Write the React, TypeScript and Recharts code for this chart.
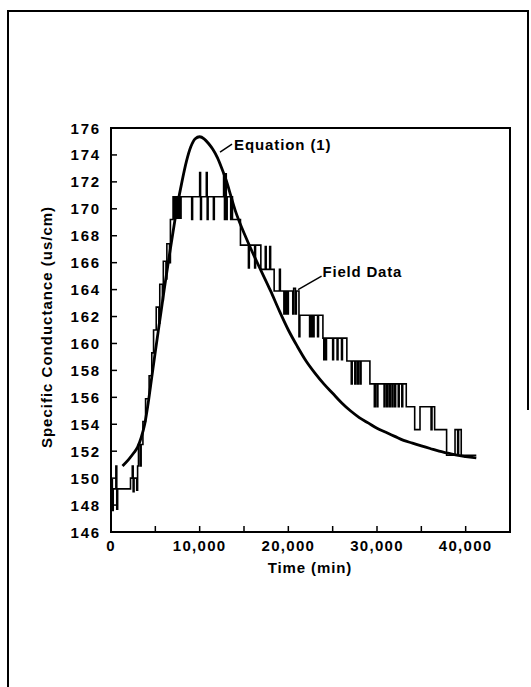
import { LineChart, Line, XAxis, YAxis, ReferenceArea, ReferenceLine } from 'recharts'

const FONT = "'Liberation Sans', Arial, Helvetica, sans-serif"

const xTicks = [0, 5000, 10000, 15000, 20000, 25000, 30000, 35000, 40000]
const yTicks = [146, 148, 150, 152, 154, 156, 158, 160, 162, 164, 166, 168, 170, 172, 174, 176]

// Equation (1): [time (min), specific conductance]
const equationCurve: [number, number][] = [
  [1300, 150.9], [2000, 151.4], [2600, 151.9], [3000, 152.3], [3400, 153.0], [3800, 154.0],
  [4200, 155.6], [4600, 157.5], [5000, 159.4], [5500, 161.7], [6000, 164.0], [6500, 166.2],
  [7000, 168.3], [7500, 170.3], [8000, 172.0], [8500, 173.5], [9000, 174.6], [9500, 175.2],
  [10000, 175.35], [10500, 175.2], [11000, 174.85], [11500, 174.4], [12000, 173.8], [12500, 173.0],
  [13000, 172.1], [13500, 171.0], [14000, 169.9], [14500, 169.0], [15000, 168.2], [16000, 166.7],
  [17000, 165.3], [18000, 163.9], [19000, 162.4], [20000, 161.0], [21000, 159.8], [22000, 158.7],
  [23000, 157.8], [24000, 157.0], [25000, 156.3], [26000, 155.6], [27000, 155.0], [28000, 154.5],
  [29000, 154.1], [30000, 153.7], [31000, 153.4], [32000, 153.1], [33000, 152.8], [34000, 152.6],
  [35000, 152.4], [36000, 152.2], [37000, 152.0], [38000, 151.85], [39000, 151.7], [40000, 151.6],
  [41200, 151.5],
]

// Field data, recorder trace (steps and spikes)
const fieldRise: [number, number][] = [
  [0, 149.9], [150, 149.9], [150, 147.6], [250, 147.6], [250, 149.2], [550, 149.2], [550, 150.9],
  [650, 150.9], [650, 147.7], [750, 147.7], [750, 149.2], [2200, 149.2], [2200, 150.0], [2400, 150.0],
  [2400, 150.9], [2500, 150.9], [2500, 149.0], [2600, 149.0], [2600, 150.0], [2900, 150.0],
  [2900, 149.1], [3000, 149.1], [3000, 150.9], [3100, 150.9], [3100, 152.5], [3300, 152.5],
  [3300, 150.9], [3400, 150.9], [3400, 152.5], [3600, 152.5], [3600, 154.2], [3900, 154.2],
  [3900, 155.9], [4300, 155.9], [4300, 157.6], [4600, 157.6], [4600, 159.3], [4800, 159.3],
  [4800, 161.0], [5100, 161.0], [5100, 162.7], [5400, 162.7], [5400, 161.5], [5500, 161.5],
  [5500, 164.4], [5800, 164.4], [5800, 163.2], [5900, 163.2], [5900, 166.1], [6200, 166.1],
  [6200, 164.8], [6300, 164.8], [6300, 167.4], [6600, 167.4], [6600, 166.0], [6700, 166.0],
  [6700, 169.2],
]

const fieldPeak: [number, number][] = [
  [7000, 169.2], [7000, 170.9], [7150, 170.9], [7150, 169.3], [7300, 169.3], [7300, 170.9],
  [7450, 170.9], [7450, 169.3], [7600, 169.3], [7600, 170.9], [7750, 170.9], [7750, 169.3],
  [7900, 169.3], [7900, 170.9], [9100, 170.9], [9100, 169.2], [9200, 169.2], [9200, 170.9],
  [10000, 170.9], [10000, 172.7], [10100, 172.7], [10100, 169.2], [10200, 169.2], [10200, 170.9],
  [10750, 170.9], [10750, 172.7], [10850, 172.7], [10850, 169.2], [10950, 169.2], [10950, 170.9],
  [11550, 170.9], [11550, 169.2], [11650, 169.2], [11650, 170.9], [12700, 170.9], [12700, 172.6],
  [12800, 172.6], [12800, 169.2], [12900, 169.2], [12900, 172.6], [13000, 172.6], [13000, 169.2],
  [13100, 169.2], [13100, 170.9], [13500, 170.9], [13500, 169.2], [13600, 169.2], [13600, 170.9],
  [13700, 170.9], [13700, 169.2],
]

const fieldDecline: [number, number][] = [
  [14600, 169.2], [14600, 167.3], [15500, 167.3], [15500, 165.6], [15600, 165.6], [15600, 167.3],
  [16200, 167.3], [16200, 165.6], [16300, 165.6], [16300, 167.3], [16900, 167.3], [16900, 165.5],
  [17400, 165.5], [17400, 167.2], [17500, 167.2], [17500, 165.5], [17900, 165.5], [17900, 167.2],
  [18000, 167.2], [18000, 165.5], [18400, 165.5], [18400, 163.9], [19000, 163.9], [19000, 165.5],
  [19100, 165.5], [19100, 163.9], [19500, 163.9], [19500, 162.2], [19600, 162.2], [19600, 163.9],
  [19700, 163.9], [19700, 162.2], [19800, 162.2], [19800, 163.9], [19900, 163.9], [19900, 162.2],
  [20000, 162.2], [20000, 163.9], [20500, 163.9], [20500, 162.2], [20600, 162.2], [20600, 164.1],
  [20800, 164.1], [20800, 162.2], [20900, 162.2], [20900, 163.9], [21200, 163.9], [21200, 160.5],
  [21300, 160.5], [21300, 162.1], [22400, 162.1], [22400, 160.5], [22500, 160.5], [22500, 162.1],
  [22600, 162.1], [22600, 160.5], [22700, 160.5], [22700, 162.1], [22800, 162.1], [22800, 160.5],
  [22900, 160.5], [22900, 162.1], [23300, 162.1], [23300, 160.5], [23400, 160.5], [23400, 162.1],
  [23900, 162.1], [23900, 160.4], [24000, 160.4], [24000, 158.8], [24100, 158.8], [24100, 160.4],
  [24200, 160.4], [24200, 158.8], [24300, 158.8], [24300, 160.4], [25000, 160.4], [25000, 158.8],
  [25100, 158.8], [25100, 160.4], [25500, 160.4], [25500, 158.8], [25600, 158.8], [25600, 160.4],
  [26000, 160.4], [26000, 158.8], [26100, 158.8], [26100, 160.4], [26600, 160.4], [26600, 158.7],
  [27100, 158.7], [27100, 157.0], [27200, 157.0], [27200, 158.7], [27500, 158.7], [27500, 157.0],
  [27600, 157.0], [27600, 158.7], [27800, 158.7], [27800, 157.0], [27900, 157.0], [27900, 158.7],
  [28100, 158.7], [28100, 157.0], [28200, 157.0], [28200, 158.7], [29200, 158.7], [29200, 157.0],
]

const fieldTail: [number, number][] = [
  [29700, 157.0], [29700, 155.3], [29800, 155.3], [29800, 157.0], [30000, 157.0], [30000, 155.3],
  [30100, 155.3], [30100, 157.0], [30800, 157.0], [30800, 155.3], [30900, 155.3], [30900, 157.0],
  [31100, 157.0], [31100, 155.3], [31200, 155.3], [31200, 157.0], [31400, 157.0], [31400, 155.3],
  [31500, 155.3], [31500, 157.0], [31700, 157.0], [31700, 155.3], [31800, 155.3], [31800, 157.0],
  [32000, 157.0], [32000, 155.3], [32100, 155.3], [32100, 157.0], [32400, 157.0], [32400, 155.3],
  [32500, 155.3], [32500, 157.0], [32800, 157.0], [32800, 155.3], [32900, 155.3], [32900, 157.0],
  [33300, 157.0], [33300, 155.3], [34250, 155.3], [34250, 153.6], [34850, 153.6], [34850, 155.3],
  [36100, 155.3], [36100, 153.6], [36200, 153.6], [36200, 155.3], [36500, 155.3], [36500, 153.6],
  [37850, 153.6], [37850, 151.7], [38800, 151.7], [38800, 153.6], [39100, 153.6], [39100, 151.8],
  [39200, 151.8], [39200, 153.6], [39500, 153.6], [39500, 151.7], [41200, 151.7],
]

const toRows = (pts: [number, number][]) => pts.map(([t, v]) => ({ t, v }))
const eqData = toRows(equationCurve)
const fieldData = toRows([...fieldRise, ...fieldPeak, ...fieldDecline, ...fieldTail])

const textStyle = { fontFamily: FONT, fontWeight: 700, fontSize: 15, fill: '#000' }

// eslint-disable-next-line @typescript-eslint/no-explicit-any
function XTick({ x, y, payload }: any) {
  const major = payload.value % 10000 === 0
  return (
    <g>
      <line x1={x} x2={x} y1={y} y2={y - 6} stroke="#000" strokeWidth={1.5} />
      {major && (
        <text x={x} y={y + 19} textAnchor="middle" letterSpacing={1.3} style={textStyle}>
          {payload.value.toLocaleString('en-US')}
        </text>
      )}
    </g>
  )
}

// eslint-disable-next-line @typescript-eslint/no-explicit-any
function YTick({ x, y, payload }: any) {
  return (
    <g>
      <line x1={x} x2={x + 6} y1={y} y2={y} stroke="#000" strokeWidth={1.5} />
      <text x={x - 10} y={y + 5.5} textAnchor="end" letterSpacing={1.8} style={textStyle}>
        {payload.value}
      </text>
    </g>
  )
}

export default function App() {
  return (
    <div style={{ position: 'absolute', left: 0, top: 0, width: 531, height: 687, background: '#fff', overflow: 'hidden' }}>
      <LineChart width={531} height={687} margin={{ top: 128, right: 21, bottom: 154, left: 110 }}>
        <XAxis
          dataKey="t"
          type="number"
          domain={[0, 45000]}
          ticks={xTicks}
          height={1}
          tickSize={0}
          tickMargin={0}
          axisLine={false}
          tickLine={false}
          tick={<XTick />}
          interval={0}
        />
        <YAxis
          type="number"
          domain={[146, 176]}
          ticks={yTicks}
          width={1}
          tickSize={0}
          tickMargin={0}
          axisLine={false}
          tickLine={false}
          tick={<YTick />}
          interval={0}
        />
        <ReferenceArea x1={0} x2={45000} y1={146} y2={176} fill="none" stroke="#000" strokeWidth={2} />
        <Line
          data={fieldData}
          dataKey="v"
          type="linear"
          stroke="#000"
          strokeWidth={1.6}
          dot={false}
          activeDot={false}
          isAnimationActive={false}
        />
        <Line
          data={eqData}
          dataKey="v"
          type="monotone"
          stroke="#000"
          strokeWidth={2.8}
          dot={false}
          activeDot={false}
          isAnimationActive={false}
        />
        <ReferenceLine segment={[{ x: 12300, y: 174.2 }, { x: 13650, y: 174.8 }]} stroke="#000" strokeWidth={1.5} />
        <ReferenceLine segment={[{ x: 21100, y: 164.0 }, { x: 23750, y: 165.0 }]} stroke="#000" strokeWidth={1.5} />
      </LineChart>
      <svg width={531} height={687} style={{ position: 'absolute', left: 0, top: 0, pointerEvents: 'none' }}>
        <path d="M8 687 L8 11 L528 11 L528 410" fill="none" stroke="#000" strokeWidth={2} />
        <text x={234} y={150} letterSpacing={0.9} style={textStyle}>Equation (1)</text>
        <text x={322.5} y={277} letterSpacing={0.8} style={textStyle}>Field Data</text>
        <text x={310} y={573} textAnchor="middle" letterSpacing={0.9} style={textStyle}>Time (min)</text>
        <text
          x={46}
          y={327}
          textAnchor="middle"
          dominantBaseline="central"
          letterSpacing={1}
          transform="rotate(-90 46 327)"
          style={textStyle}
        >
          Specific Conductance (us/cm)
        </text>
      </svg>
    </div>
  )
}
